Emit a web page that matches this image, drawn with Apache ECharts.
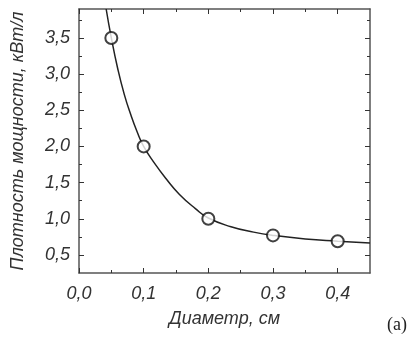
<!DOCTYPE html>
<html>
<head>
<meta charset="utf-8">
<script src="https://cdn.jsdelivr.net/npm/echarts@6/dist/echarts.min.js"></script>
<style>html,body{margin:0;padding:0;background:#fff;}#c{width:418px;height:346px;}</style>
</head>
<body>
<div id="c"></div>
<script>
// Measured points
const diameters = [0.05, 0.1, 0.2, 0.3, 0.4];
const powerDensity = [3.5, 2.0, 1.0, 0.77, 0.69];
// Fitted curve
const curveX = [0.042, 0.05, 0.06, 0.07, 0.08, 0.09, 0.1, 0.115, 0.135, 0.155, 0.18, 0.2, 0.235, 0.27, 0.3, 0.35, 0.4, 0.45];
const curveY = [3.9, 3.5, 3.07, 2.72, 2.44, 2.2, 2.0, 1.79, 1.55, 1.34, 1.14, 1.01, 0.89, 0.815, 0.77, 0.72, 0.69, 0.665];
// Ticks
const xMajor = [0, 0.1, 0.2, 0.3, 0.4];
const xMinor = [0.05, 0.15, 0.25, 0.35];
const yMajor = [0.5, 1.0, 1.5, 2.0, 2.5, 3.0, 3.5];
const yMinor = [0.75, 1.25, 1.75, 2.25, 2.75, 3.25, 3.75];
const xTitle = 'Диаметр, см';
const yTitle = 'Плотность мощности, кВт/л';
const panelTag = '(a)';

const fmt = v => v.toFixed(1).replace('.', ',');
const FONT = 'Liberation Sans';
const lineCol = '#555';

function xAx(pos, ticks, len, labels, line) {
  return {
    type: 'value', position: pos, min: 0, max: 0.45,
    axisLine: {show: line, onZero: false, lineStyle: {color: lineCol, width: 1.5}},
    axisTick: {show: true, inside: true, length: len, customValues: ticks, lineStyle: {color: '#333', width: 1}},
    axisLabel: labels ? {show: true, customValues: ticks, formatter: fmt, margin: 12,
      fontFamily: FONT, fontStyle: 'italic', fontSize: 18, color: '#333'} : {show: false},
    splitLine: {show: false},
    name: labels ? xTitle : '', nameLocation: 'middle', nameGap: 37,
    nameTextStyle: {fontFamily: FONT, fontStyle: 'italic', fontSize: 18, color: '#333'}
  };
}
function yAx(pos, ticks, len, labels, line) {
  return {
    type: 'value', position: pos, min: 0.25, max: 3.9,
    axisLine: {show: line, onZero: false, lineStyle: {color: lineCol, width: 1.5}},
    axisTick: {show: true, inside: true, length: len, customValues: ticks, lineStyle: {color: '#333', width: 1}},
    axisLabel: labels ? {show: true, customValues: ticks, formatter: fmt, margin: 9,
      fontFamily: FONT, fontStyle: 'italic', fontSize: 18, color: '#333'} : {show: false},
    splitLine: {show: false},
    name: labels ? yTitle : '', nameLocation: 'middle', nameGap: 52, nameRotate: 90,
    nameTextStyle: {fontFamily: FONT, fontStyle: 'italic', fontSize: 18, color: '#333'}
  };
}

const chart = echarts.init(document.getElementById('c'), null, {renderer: 'canvas'});
chart.setOption({
  animation: false,
  backgroundColor: '#fff',
  grid: {left: 79, top: 9, right: 48, bottom: 73},
  xAxis: [
    xAx('bottom', xMajor, 5, true, true),
    xAx('bottom', xMinor, 3, false, false),
    xAx('top', xMajor, 5, false, true),
    xAx('top', xMinor, 3, false, false)
  ],
  yAxis: [
    yAx('left', yMajor, 5, true, true),
    yAx('left', yMinor, 3, false, false),
    yAx('right', yMajor, 5, false, true),
    yAx('right', yMinor, 3, false, false)
  ],
  graphic: [{
    type: 'text', left: 387, top: 316,
    style: {text: panelTag, font: '18px "Liberation Serif"', fill: '#222'}
  }],
  series: [
    {
      type: 'line', xAxisIndex: 0, yAxisIndex: 0,
      data: curveX.map((x, i) => [x, curveY[i]]),
      smooth: 0.5, showSymbol: false, clip: true,
      lineStyle: {color: '#222', width: 1.5}, z: 2
    },
    {
      type: 'scatter', xAxisIndex: 0, yAxisIndex: 0,
      data: diameters.map((x, i) => [x, powerDensity[i]]),
      symbol: 'circle', symbolSize: 12,
      itemStyle: {color: '#fff', borderColor: '#111', borderWidth: 2}, z: 3
    }
  ]
});
</script>
</body>
</html>
